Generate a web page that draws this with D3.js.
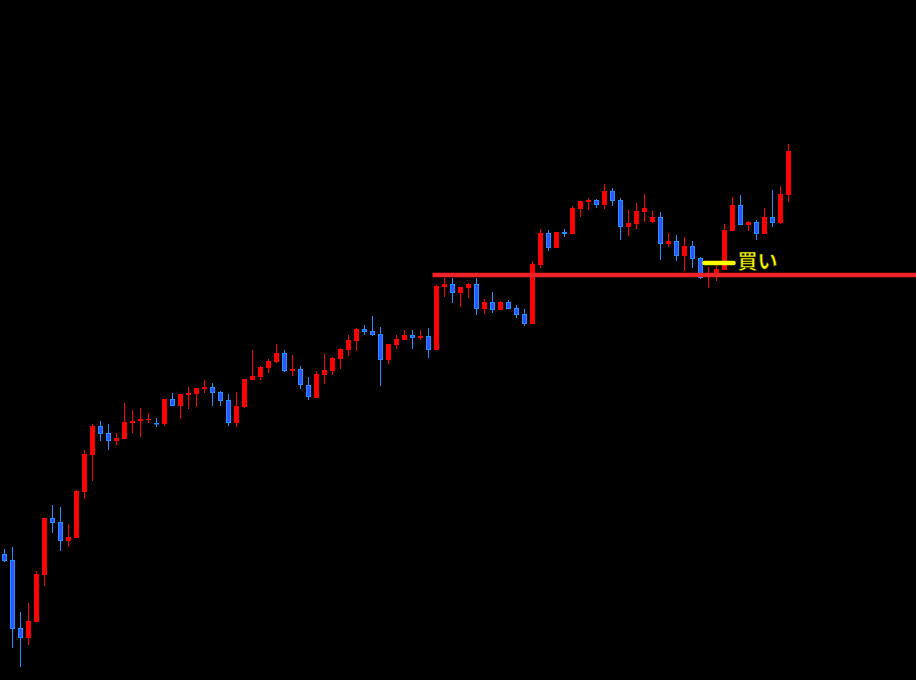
<!DOCTYPE html>
<html>
<head>
<meta charset="utf-8">
<script src="https://cdn.jsdelivr.net/npm/d3@7"></script>
<style>
  html, body { margin: 0; padding: 0; background: #000; overflow: hidden; }
</style>
</head>
<body>
<script>
// price data, one entry per candle
var opens  = [246,240,172,162,178,225,282,278,259,262,308,345,374,367,359,361,377,379,380,377,
              376,401,394,405,406,411,413,408,400,377,393,420,423,432,438,447,429,431,415,402,
              425,429,441,450,459,471,469,466,440,455,460,465,462,464,450,513,516,507,512,516,
              491,498,490,498,492,486,476,535,567,552,568,566,591,598,600,595,609,600,573,576,
              588,578,583,556,559,544,554,542,523,527,530,569,595,575,578,566,583,577,605];
var highs  = [251,253,188,197,229,282,295,293,276,310,350,376,379,376,367,397,390,392,387,382,
              401,407,406,413,412,420,417,409,406,408,421,450,434,441,456,450,445,434,423,429,
              446,443,452,465,472,475,484,473,456,465,470,470,470,472,515,522,522,513,517,522,
              501,508,499,500,495,491,539,571,570,568,571,594,599,602,601,616,612,602,590,597,
              606,589,588,567,565,563,559,543,533,534,576,603,605,579,580,592,610,614,656];
var lows   = [238,152,133,155,178,214,267,249,253,262,301,319,359,350,355,361,367,363,377,373,
              374,394,381,391,393,407,394,394,374,373,392,420,420,427,437,428,424,411,400,402,
              416,425,431,444,449,465,464,414,436,451,460,451,460,442,450,503,497,493,502,485,
              486,487,490,491,482,474,476,532,549,552,563,566,583,590,592,591,594,560,564,571,
              578,577,540,553,539,529,532,521,512,519,530,569,575,569,560,566,573,576,598];
var closes = [239,171,162,179,226,282,277,259,263,309,346,374,366,359,362,378,379,381,381,376,
              401,394,406,407,412,413,407,399,377,394,421,424,433,439,447,429,431,415,403,426,
              430,442,451,460,471,468,465,440,456,461,465,462,464,450,514,516,507,513,516,491,
              498,490,498,491,485,476,536,567,552,568,566,592,599,600,595,609,599,573,577,589,
              592,583,556,559,544,554,541,522,526,531,570,595,575,578,566,583,577,606,649];

var supportLevel = 525;   // horizontal resistance turned support
var supportFrom = 54;     // candle where the line starts
var buyLevel = 537;
var buyIndex = 87;
var buyLabel = '買い';

var width = 916, height = 680;

var candles = opens.map(function(o, i){
  return { i: i, o: o, h: highs[i], l: lows[i], c: closes[i] };
});

var x = d3.scaleBand()
  .domain(d3.range(candles.length))
  .range([0.5, 0.5 + candles.length * 8]);

var y = d3.scaleLinear()
  .domain([120, 800])
  .range([height, 0]);

var svg = d3.select('body').append('svg')
  .attr('width', width)
  .attr('height', height)
  .style('display', 'block')
  .style('background', '#000');

function cx(d){ return x(d.i) + x.bandwidth() / 2; }
function up(d){ return d.c >= d.o; }

var g = svg.append('g');

// wicks
g.selectAll('line.wick')
  .data(candles)
  .enter()
  .append('line')
  .attr('class', 'wick')
  .attr('x1', cx)
  .attr('x2', cx)
  .attr('y1', function(d){ return y(d.h); })
  .attr('y2', function(d){ return y(d.l); })
  .attr('stroke', function(d){ return up(d) ? '#ff0000' : '#1e90ff'; })
  .attr('stroke-width', 1);

// bodies
g.selectAll('rect.body')
  .data(candles)
  .enter()
  .append('rect')
  .attr('class', 'body')
  .attr('x', function(d){ return up(d) ? cx(d) - 2.5 : cx(d) - 2; })
  .attr('width', function(d){ return up(d) ? 5 : 4; })
  .attr('y', function(d){
    var t = y(Math.max(d.o, d.c));
    return up(d) ? t : t + 0.5;
  })
  .attr('height', function(d){
    var hgt = Math.max(1, y(Math.min(d.o, d.c)) - y(Math.max(d.o, d.c)));
    return up(d) ? hgt : Math.max(0.5, hgt - 1);
  })
  .attr('fill', function(d){ return up(d) ? '#ff0000' : '#2f55ff'; })
  .attr('stroke', function(d){ return up(d) ? 'none' : '#1e90ff'; })
  .attr('stroke-width', 1);

// support line
svg.append('line')
  .attr('x1', x(supportFrom))
  .attr('x2', width)
  .attr('y1', y(supportLevel))
  .attr('y2', y(supportLevel))
  .attr('stroke', '#ee2229')
  .attr('stroke-width', 4.5);

// buy marker
var bx = x(buyIndex) + x.bandwidth() / 2;
svg.append('line')
  .attr('x1', bx + 4)
  .attr('x2', bx + 33)
  .attr('y1', y(buyLevel))
  .attr('y2', y(buyLevel))
  .attr('stroke', '#ffff00')
  .attr('stroke-width', 4.5)
  .attr('stroke-linecap', 'round');

svg.append('text')
  .attr('x', bx + 37)
  .attr('y', y(buyLevel) + 6)
  .attr('fill', '#ffff00')
  .attr('stroke', '#222200')
  .attr('stroke-width', 0.6)
  .attr('font-family', '"Noto Sans CJK JP", sans-serif')
  .attr('font-weight', 'bold')
  .attr('font-size', 20)
  .text(buyLabel);
</script>
</body>
</html>
